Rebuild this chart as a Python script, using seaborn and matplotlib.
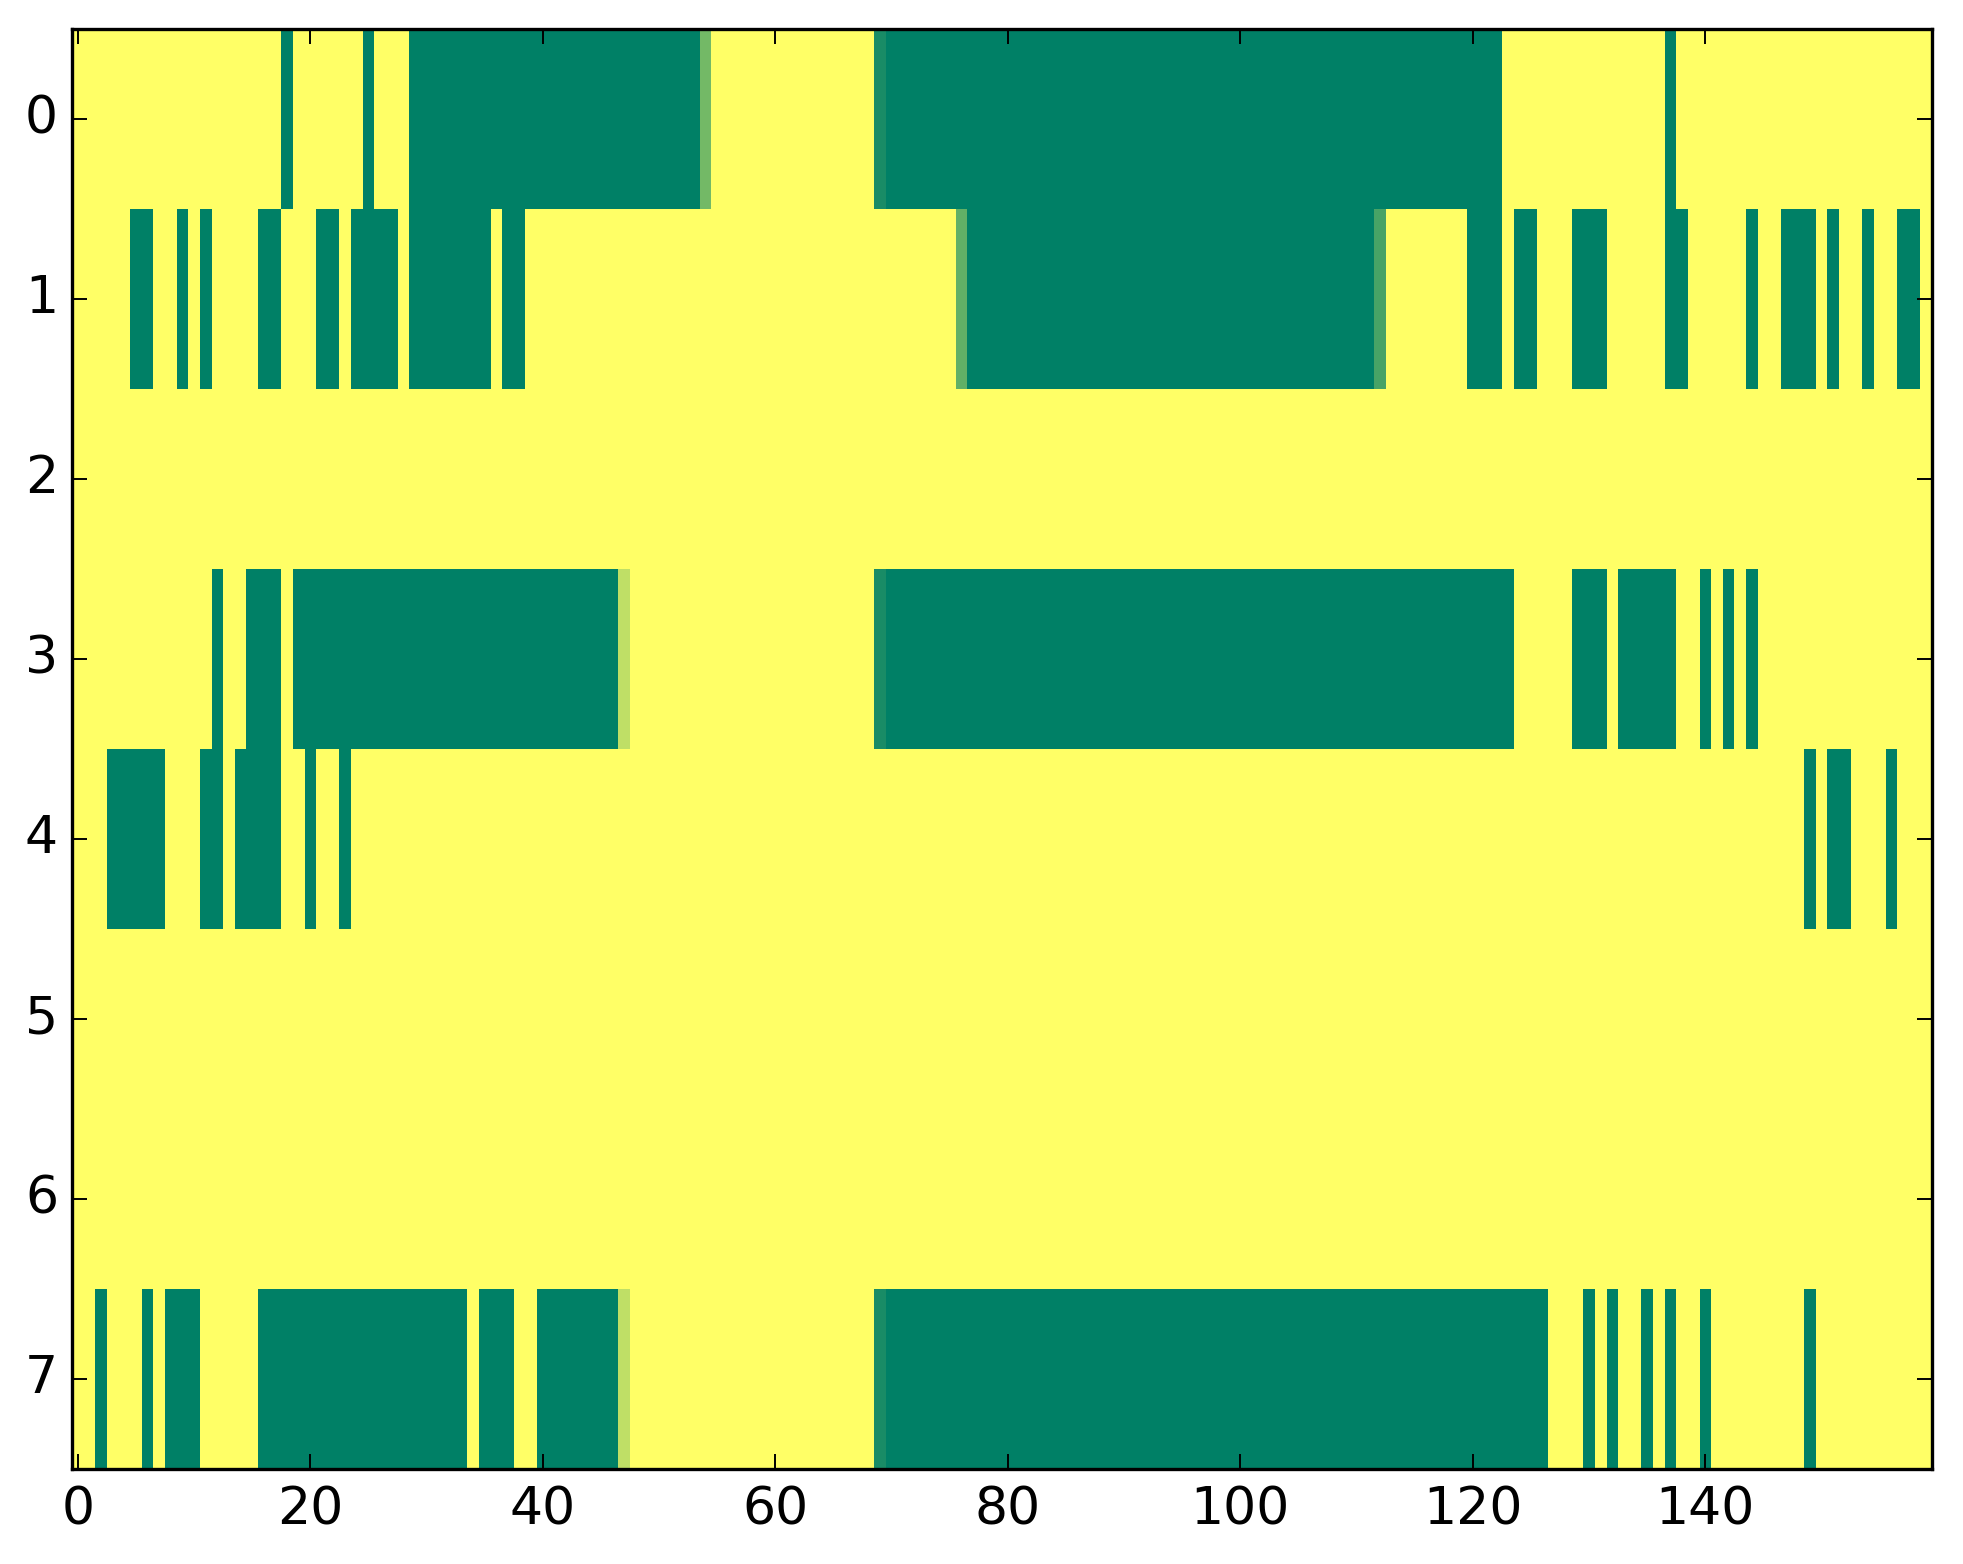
import matplotlib
matplotlib.use("Agg")
import matplotlib.pyplot as plt
import numpy as np
import pandas as pd
import seaborn as sns

ncols = 160
nrows = 8

# runs of (first col, last col, value); everything else is 0
row0 = [(18, 18, 1), (25, 25, 1), (29, 53, 1), (54, 54, 0.55), (69, 69, 0.9),
        (70, 122, 1), (137, 137, 1)]
row1 = [(5, 6, 1), (9, 9, 1), (11, 11, 1), (16, 17, 1), (21, 22, 1), (24, 27, 1),
        (29, 35, 1), (37, 38, 1), (76, 76, 0.62), (77, 111, 1), (112, 112, 0.72),
        (120, 122, 1), (124, 125, 1), (129, 131, 1), (137, 138, 1), (144, 144, 1),
        (147, 149, 1), (151, 151, 1), (154, 154, 1), (157, 158, 1)]
row2 = []
row3 = [(12, 12, 1), (15, 17, 1), (19, 46, 1), (47, 47, 0.25), (69, 69, 0.9),
        (70, 123, 1), (129, 131, 1), (133, 137, 1), (140, 140, 1), (142, 142, 1),
        (144, 144, 1)]
row4 = [(3, 7, 1), (11, 12, 1), (14, 17, 1), (20, 20, 1), (23, 23, 1),
        (149, 149, 1), (151, 152, 1), (156, 156, 1)]
row5 = []
row6 = []
row7 = [(2, 2, 1), (6, 6, 1), (8, 10, 1), (16, 33, 1), (35, 37, 1), (40, 46, 1),
        (47, 47, 0.25), (69, 69, 0.9), (70, 126, 1), (130, 130, 1), (132, 132, 1),
        (135, 135, 1), (137, 137, 1), (140, 140, 1), (149, 149, 1)]

rows = [row0, row1, row2, row3, row4, row5, row6, row7]
mat = np.zeros((nrows, ncols))
for r, runs in enumerate(rows):
    for a, b, v in runs:
        mat[r, a:b + 1] = v
df = pd.DataFrame(mat)

W, H = 1963, 1564
fig = plt.figure(figsize=(W / 100, H / 100), dpi=100)
ax = fig.add_axes([72 / W, 1 - 1469 / H, (1932 - 72) / W, (1469 - 29) / H])

sns.heatmap(df, cmap="summer_r", vmin=0, vmax=1, cbar=False, ax=ax)

for sp in ax.spines.values():
    sp.set_visible(True)
    sp.set_linewidth(2.4)
    sp.set_color("black")

xt = np.arange(0, 141, 20)
ax.set_xticks(xt + 0.5)
ax.set_xticklabels([str(v) for v in xt], rotation=0)
ax.set_yticks(np.arange(nrows) + 0.5)
ax.set_yticklabels([str(v) for v in range(nrows)], rotation=0)
ax.set_xlabel("")
ax.set_ylabel("")
ax.tick_params(axis="both", which="major", direction="in", length=11, width=1.4,
               labelsize=37.5, colors="black", top=True, right=True,
               labeltop=False, labelright=False)
ax.tick_params(axis="x", pad=12)
ax.tick_params(axis="y", pad=10)
for lab in ax.get_xticklabels() + ax.get_yticklabels():
    lab.set_fontfamily("DejaVu Sans")

fig.savefig("out.png", dpi=100)
